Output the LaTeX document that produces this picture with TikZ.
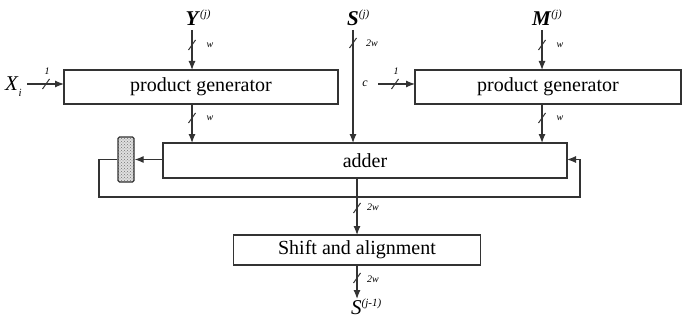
\documentclass[tikz,border=0pt]{standalone}
\usepackage{fontspec}
\setmainfont{Liberation Serif}
\usetikzlibrary{arrows.meta,patterns}
\begin{document}
\begin{tikzpicture}[x=1pt,y=-1pt,
  box/.style={draw=black!80,line width=1.3pt,inner sep=0pt,outer sep=0pt,font=\fontsize{20}{24}\selectfont},
  wire/.style={draw=black!80,line width=1.2pt},
  arr/.style={wire,-{Latex[length=9pt,width=7pt]}},
  lbl/.style={font=\fontsize{10}{10}\selectfont\itshape,inner sep=0pt},
  big/.style={font=\fontsize{21}{24}\selectfont,inner sep=0pt,anchor=base west},
  bus/.pic={\draw[black!80,line width=1pt] (-3.5,5) -- (3.5,-5);}
]
\useasboundingbox (0,0) rectangle (683,329);
% boxes
\node[box,minimum width=274pt,minimum height=34pt] (pg1) at (201,87) {product generator};
\node[box,minimum width=266pt,minimum height=34pt] (pg2) at (548,87) {product generator};
\node[box,minimum width=404pt,minimum height=35pt] (add) at (365,160.5) {adder};
\node[box,minimum width=247pt,minimum height=30pt] (sh) at (357,250) {Shift and alignment};
\node[draw=black!80,line width=1.2pt,rounded corners=1.5pt,minimum width=16pt,minimum height=45pt,inner sep=0pt,
      preaction={fill=gray!25},pattern=crosshatch dots,pattern color=black!55] (reg) at (126,159.5) {};
% free ends
\coordinate (yin) at (192,30);
\coordinate (sin) at (353,30);
\coordinate (min) at (542,30);
\coordinate (xin) at (27,84);
\coordinate (cin) at (378,84);
\coordinate (jn) at (357,197);
\coordinate (lc) at (99,197);
\coordinate (rc) at (580,197);
\coordinate (sout) at (357,299);
% labels
\node[big] (ylab) at (185.5,26) {\textbf{\textit{Y}}\raisebox{8pt}{\fontsize{11}{11}\selectfont\textit{(j)}}};
\node[big] (slab) at (347,26) {\textbf{\textit{S}}\raisebox{8pt}{\fontsize{11}{11}\selectfont\textit{(j)}}};
\node[big] (mlab) at (532,26) {\textbf{\textit{M}}\raisebox{8pt}{\fontsize{11}{11}\selectfont\textit{(j)}}};
\node[big] (solab) at (351,314) {\textit{S}\raisebox{8pt}{\fontsize{11}{11}\selectfont\textit{(j-1)}}};
\node[big] (xlab) at (5,90) {\textit{X}\raisebox{-6pt}{\fontsize{11}{11}\selectfont\textit{i}}};
\node[lbl,font=\fontsize{12}{12}\selectfont\itshape] (clab) at (365,84) {c};
% wires
\draw[arr] (yin) -- (yin |- pg1.north);
\pic at (192,45) {bus};
\node[lbl] at (210,45) {w};
\draw[arr] (pg1.south -| yin) -- (add.north -| yin);
\pic at (192,118) {bus};
\node[lbl] at (210,118) {w};
\draw[arr] (sin) -- (sin |- add.north);
\pic at (353,43) {bus};
\node[lbl] at (372,43) {2w};
\draw[arr] (min) -- (min |- pg2.north);
\pic at (542,45) {bus};
\node[lbl] at (560,45) {w};
\draw[arr] (pg2.south -| min) -- (add.north -| min);
\pic at (542,118) {bus};
\node[lbl] at (560,118) {w};
\draw[arr] (xin) -- (pg1.west |- xin);
\pic at (46,84) {bus};
\node[lbl] at (47,71) {1};
\draw[arr] (cin) -- (pg2.west |- cin);
\pic at (395,84) {bus};
\node[lbl] at (396,71) {1};
\draw[arr] (add.west |- reg.east) -- (reg.east);
\draw[arr] (reg.west) -| (lc) -- (rc) |- (add.east |- reg.east);
\draw[arr] (sh.north |- add.south) -- (sh.north);
\fill[black!80] (jn) circle (1.4pt);
\pic at (357,208) {bus};
\node[lbl] at (373,207) {2w};
\draw[arr] (sh.south) -- (sout);
\pic at (357,278) {bus};
\node[lbl] at (373,279) {2w};
\end{tikzpicture}
\end{document}
